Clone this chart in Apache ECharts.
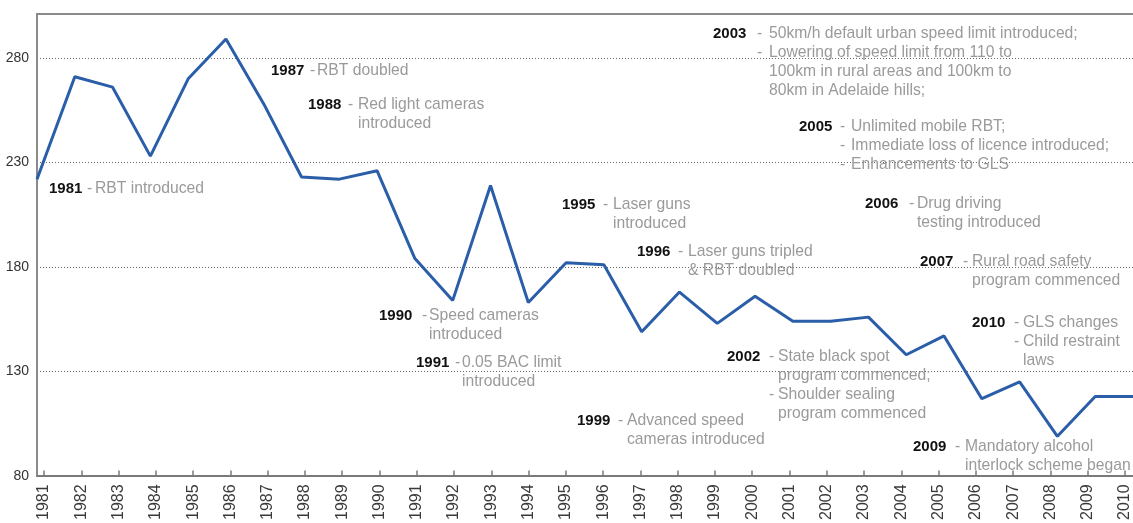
<!DOCTYPE html>
<html>
<head>
<meta charset="utf-8">
<script src="https://cdn.jsdelivr.net/npm/echarts@6/dist/echarts.min.js"></script>
<style>
  html, body { margin: 0; padding: 0; background: #fff; }
  #chart { width: 1133px; height: 523px; }
</style>
</head>
<body>
<div id="chart"></div>
<script>
// years on the x axis
const years = ["1981", "1982", "1983", "1984", "1985", "1986", "1987", "1988", "1989", "1990",
  "1991", "1992", "1993", "1994", "1995", "1996", "1997", "1998", "1999", "2000",
  "2001", "2002", "2003", "2004", "2005", "2006", "2007", "2008", "2009", "2010"];
// road deaths per year
const deaths = [222, 271, 266, 233, 270, 289, 258, 223, 222, 226,
  184, 164, 219, 163, 182, 181, 149, 168, 153, 166,
  154, 154, 156, 138, 147, 117, 125, 99, 118, 118];
const yTicks = [80, 130, 180, 230, 280];

// annotation texts; a line starting with "- " is a new bullet
const noteYears = ["1981", "1987", "1988", "1990", "1991", "1995", "1996", "1999",
  "2002", "2003", "2005", "2006", "2007", "2009", "2010"];
const noteLines = [
  ["RBT introduced"],
  ["RBT doubled"],
  ["Red light cameras", "introduced"],
  ["Speed cameras", "introduced"],
  ["0.05 BAC limit", "introduced"],
  ["Laser guns", "introduced"],
  ["Laser guns tripled", "& RBT doubled"],
  ["Advanced speed", "cameras introduced"],
  ["State black spot", "program commenced;", "- Shoulder sealing", "program commenced"],
  ["50km/h default urban speed limit introduced;", "- Lowering of speed limit from 110 to", "100km in rural areas and 100km to", "80km in Adelaide hills;"],
  ["Unlimited mobile RBT;", "- Immediate loss of licence introduced;", "- Enhancements to GLS"],
  ["Drug driving", "testing introduced"],
  ["Rural road safety", "program commenced"],
  ["Mandatory alcohol", "interlock scheme began"],
  ["GLS changes", "- Child restraint", "laws"]
];
// layout: [year x, first line centre y, dash x, text x]
const notePos = [
  [49, 189, 87, 95], [271, 71, 310, 317], [308, 105, 348, 358], [379, 316, 422, 429],
  [416, 363, 455, 462], [562, 205, 603, 613], [637, 252, 678, 688], [577, 421, 618, 627],
  [727, 357, 769, 778], [713, 34, 757, 769], [799, 127, 840, 851], [865, 204, 909, 917],
  [920, 262, 963, 972], [913, 447, 955, 965], [972, 323, 1014, 1023]
];

const LH = 19;
const grey = "#9a9a9a";
const textFont = "15.7px 'Liberation Sans'";
const graphics = [];
noteYears.forEach((yr, i) => {
  const [yx, cy, dx, tx] = notePos[i];
  const lines = noteLines[i];
  const top = cy - LH / 2;
  graphics.push({
    type: "text", x: yx, y: top, z: 10,
    style: { text: yr, font: "bold 15px 'Liberation Sans'", fill: "#111", lineHeight: LH, verticalAlign: "top" }
  });
  graphics.push({
    type: "text", x: dx, y: top, z: 10,
    style: {
      text: lines.map((l, j) => (j === 0 || l.startsWith("- ")) ? "-" : " ").join("\n"),
      font: textFont, fill: grey, lineHeight: LH, verticalAlign: "top"
    }
  });
  graphics.push({
    type: "text", x: tx, y: top, z: 10,
    style: {
      text: lines.map(l => l.replace(/^- /, "")).join("\n"),
      font: textFont, fill: grey, lineHeight: LH, verticalAlign: "top"
    }
  });
});

const chart = echarts.init(document.getElementById("chart"), null, { renderer: "canvas" });
const option = {
  animation: false,
  grid: [
    { left: 37, right: -6, top: 14, bottom: 47 },
    { left: 44, right: 5, top: 14, bottom: 47 }
  ],
  xAxis: [
    {
      type: "category", gridIndex: 0, data: years, boundaryGap: false,
      axisLine: { lineStyle: { color: "#7a7a7a", width: 2 } },
      axisTick: { show: false }, axisLabel: { show: false }
    },
    {
      type: "category", gridIndex: 0, data: years, boundaryGap: false, position: "top",
      axisLine: { lineStyle: { color: "#8a8a8a", width: 2 } },
      axisTick: { show: false }, axisLabel: { show: false }
    },
    {
      type: "category", gridIndex: 1, data: years, boundaryGap: false,
      axisLine: { show: false },
      axisTick: { show: true, length: 6, lineStyle: { color: "#7a7a7a", width: 1.5 } },
      axisLabel: { rotate: 90, margin: 14, fontSize: 16, color: "#3a3a3a", fontFamily: "Liberation Sans" }
    }
  ],
  yAxis: [
    {
      type: "value", gridIndex: 0, min: 80, max: 301, interval: 50,
      axisLine: { show: true, lineStyle: { color: "#8a8a8a", width: 2 } },
      axisTick: { show: false },
      axisLabel: {
        margin: 8, fontSize: 14, color: "#333", fontFamily: "Liberation Sans",
        formatter: v => yTicks.includes(v) ? String(v) : ""
      },
      splitLine: { show: true, lineStyle: { color: "#666", width: 1, type: [1, 2] } }
    },
    {
      type: "value", gridIndex: 1, min: 80, max: 301, show: false
    }
  ],
  series: [
    {
      type: "line", xAxisIndex: 0, yAxisIndex: 0, data: deaths,
      symbol: "none", lineStyle: { color: "#2a5ea8", width: 3 }
    }
  ],
  graphic: graphics
};
chart.setOption(option);
window.addEventListener("resize", () => chart.resize());
</script>
</body>
</html>
